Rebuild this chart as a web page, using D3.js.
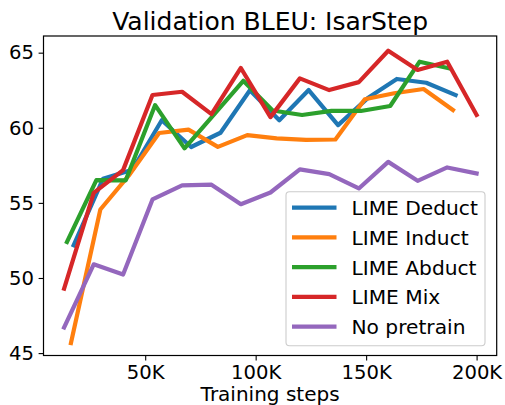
<!DOCTYPE html>
<html>
<head>
<meta charset="utf-8">
<script src="https://cdn.jsdelivr.net/npm/d3@7"></script>
<style>
  html, body { margin: 0; padding: 0; background: #fff; }
  svg { display: block; }
  text { font-family: "DejaVu Sans", sans-serif; fill: #000; }
</style>
</head>
<body>
<div id="chart"></div>
<script>
// ---- data (x in thousands of training steps) ----
const seriesNames = ["LIME Deduct", "LIME Induct", "LIME Abduct", "LIME Mix", "No pretrain"];
const seriesColors = ["#1f77b4", "#ff7f0e", "#2ca02c", "#d62728", "#9467bd"];

const deductSteps = [17.6, 30.9, 44.2, 57.5, 70.8, 84.1, 97.4, 110.7, 124.0, 137.3, 150.6, 163.9, 177.2, 190.5];
const deductBleu  = [52.18, 56.6, 57.2, 60.5, 58.72, 59.67, 62.5, 60.5, 62.51, 60.18, 61.96, 63.25, 63.0, 62.18];

const inductSteps = [16.4, 29.7, 43.0, 56.3, 69.6, 82.9, 96.2, 109.5, 122.8, 136.1, 149.4, 162.7, 176.0, 189.3];
const inductBleu  = [45.67, 54.56, 56.9, 59.65, 59.88, 58.73, 59.51, 59.29, 59.2, 59.22, 61.9, 62.3, 62.58, 61.18];

const abductSteps = [14.6, 27.9, 41.2, 54.5, 67.8, 81.1, 94.4, 107.7, 121.0, 134.3, 147.6, 160.9, 174.2, 187.5];
const abductBleu  = [52.4, 56.51, 56.5, 61.51, 58.63, 60.88, 63.13, 61.15, 60.85, 61.13, 61.12, 61.45, 64.4, 63.96];

const mixSteps = [13.3, 26.7, 40.0, 53.3, 66.7, 80.0, 93.3, 106.7, 120.0, 133.3, 146.7, 160.0, 173.3, 186.7, 200.0];
const mixBleu  = [49.3, 55.67, 57.18, 62.18, 62.4, 60.91, 63.98, 60.71, 63.29, 62.51, 63.04, 65.13, 63.85, 64.4, 60.85];

const noPreSteps = [13.3, 26.7, 40.0, 53.3, 66.7, 80.0, 93.3, 106.7, 120.0, 133.3, 146.7, 160.0, 173.3, 186.7, 200.0];
const noPreBleu  = [46.71, 50.91, 50.23, 55.23, 56.16, 56.21, 54.91, 55.69, 57.23, 56.91, 55.96, 57.73, 56.47, 57.36, 56.96];

const xTicks = [50, 100, 150, 200];
const xTickLabels = ["50K", "100K", "150K", "200K"];
const yTicks = [45, 50, 55, 60, 65];

const titleText = "Validation BLEU: IsarStep";
const xLabelText = "Training steps";

// ---- layout ----
const W = 505, H = 405;
const mLeft = 43.5, mRight = 496.7, mTop = 36, mBottom = 355.5;

const svg = d3.select("#chart").append("svg")
  .attr("width", W).attr("height", H);

const x = d3.scaleLinear().domain([3.97, 209.1]).range([mLeft, mRight]);
const y = d3.scaleLinear().domain([44.84, 66.11]).range([mBottom, mTop]);

svg.append("defs").append("clipPath").attr("id", "plotclip")
  .append("rect").attr("x", mLeft).attr("y", mTop)
  .attr("width", mRight - mLeft).attr("height", mBottom - mTop);

const series = [
  { name: seriesNames[0], color: seriesColors[0], xs: deductSteps, ys: deductBleu },
  { name: seriesNames[1], color: seriesColors[1], xs: inductSteps, ys: inductBleu },
  { name: seriesNames[2], color: seriesColors[2], xs: abductSteps, ys: abductBleu },
  { name: seriesNames[3], color: seriesColors[3], xs: mixSteps, ys: mixBleu },
  { name: seriesNames[4], color: seriesColors[4], xs: noPreSteps, ys: noPreBleu }
];

const line = d3.line().x(d => x(d[0])).y(d => y(d[1]));

const plot = svg.append("g").attr("clip-path", "url(#plotclip)");
series.forEach(s => {
  plot.append("path")
    .datum(s.xs.map((v, i) => [v, s.ys[i]]))
    .attr("d", line)
    .attr("fill", "none")
    .attr("stroke", s.color)
    .attr("stroke-width", 4.2)
    .attr("stroke-linejoin", "round")
    .attr("stroke-linecap", "square");
});

// ---- axes ----
const xAxis = d3.axisBottom(x).tickValues(xTicks)
  .tickFormat((d, i) => xTickLabels[i]).tickSize(4.9).tickPadding(4.2);
const gx = svg.append("g").attr("transform", `translate(0,${mBottom})`).call(xAxis);
gx.select(".domain").remove();
gx.selectAll(".tick line").attr("stroke", "#000").attr("stroke-width", 1.1);
gx.selectAll(".tick text").style("font-size", "19.6px")
  .style("font-family", "'DejaVu Sans', sans-serif").attr("fill", "#000");

const yAxis = d3.axisLeft(y).tickValues(yTicks).tickSize(4.9).tickPadding(4.6);
const gy = svg.append("g").attr("transform", `translate(${mLeft},0)`).call(yAxis);
gy.select(".domain").remove();
gy.selectAll(".tick line").attr("stroke", "#000").attr("stroke-width", 1.1);
gy.selectAll(".tick text").style("font-size", "19.6px")
  .style("font-family", "'DejaVu Sans', sans-serif").attr("fill", "#000");

// frame
svg.append("rect")
  .attr("x", mLeft).attr("y", mTop)
  .attr("width", mRight - mLeft).attr("height", mBottom - mTop)
  .attr("fill", "none").attr("stroke", "#000").attr("stroke-width", 1.2);

// title & label
svg.append("text").attr("x", (mLeft + mRight) / 2).attr("y", 29.5)
  .attr("text-anchor", "middle").style("font-size", "25px").text(titleText);
svg.append("text").attr("x", (mLeft + mRight) / 2).attr("y", 400.5)
  .attr("text-anchor", "middle").style("font-size", "20px").text(xLabelText);

// ---- legend ----
const lg = svg.append("g");
lg.append("rect")
  .attr("x", 286).attr("y", 191.7).attr("width", 199).attr("height", 154)
  .attr("rx", 3.5).attr("ry", 3.5)
  .attr("fill", "#fff").attr("fill-opacity", 0.8)
  .attr("stroke", "#cccccc").attr("stroke-width", 1.1);

series.forEach((s, i) => {
  const ly = 207.7 + i * 29.75;
  lg.append("line")
    .attr("x1", 292).attr("x2", 336.5).attr("y1", ly).attr("y2", ly)
    .attr("stroke", s.color).attr("stroke-width", 4.2);
  lg.append("text").attr("x", 351.5).attr("y", ly + 7.3)
    .style("font-size", "20.2px").text(s.name);
});
</script>
</body>
</html>
